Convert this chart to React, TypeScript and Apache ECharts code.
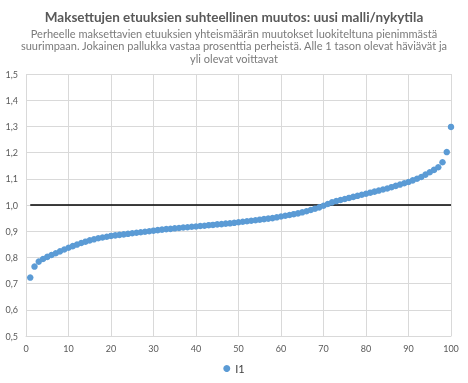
import React, { useEffect, useRef } from "react";
import * as echarts from "echarts";

const titleText = "Maksettujen etuuksien suhteellinen muutos: uusi malli/nykytila";
const subtitleLines = [
  "Perheelle maksettavien etuuksien yhteismäärän muutokset luokiteltuna pienimmästä",
  "suurimpaan. Jokainen pallukka vastaa prosenttia perheistä. Alle 1 tason olevat häviävät ja",
  "yli olevat voittavat",
];
const seriesName = "I1";
const percentiles = Array.from({ length: 100 }, (_, i) => i + 1);
const ratios = [
  0.723, 0.765, 0.784, 0.794, 0.802, 0.809, 0.816, 0.823, 0.83, 0.837,
  0.843, 0.849, 0.855, 0.86, 0.865, 0.869, 0.873, 0.876, 0.879, 0.882,
  0.884, 0.886, 0.888, 0.89, 0.892, 0.894, 0.896, 0.898, 0.9, 0.902,
  0.904, 0.906, 0.908, 0.909, 0.911, 0.912, 0.914, 0.915, 0.917, 0.918,
  0.92, 0.921, 0.923, 0.924, 0.926, 0.927, 0.929, 0.93, 0.932, 0.934,
  0.936, 0.938, 0.94, 0.942, 0.944, 0.946, 0.948, 0.95, 0.953, 0.956,
  0.959, 0.962, 0.965, 0.968, 0.972, 0.976, 0.981, 0.986, 0.991, 0.997,
  1.004, 1.01, 1.015, 1.019, 1.023, 1.027, 1.031, 1.035, 1.039, 1.043,
  1.047, 1.051, 1.055, 1.059, 1.063, 1.068, 1.073, 1.078, 1.083, 1.088,
  1.094, 1.1, 1.107, 1.116, 1.125, 1.134, 1.144, 1.163, 1.202, 1.298,
];
const refLineX = [1, 100];
const refLineY = [1, 1];

export default function App() {
  const ref = useRef<HTMLDivElement>(null);
  useEffect(() => {
    if (!ref.current) return;
    const chart = echarts.init(ref.current, null, { renderer: "svg" });
    const font = "Lato, 'Open Sans', sans-serif";
    chart.setOption({
      animation: false,
      textStyle: { fontFamily: font },
      graphic: [
        {
          type: "text",
          x: 234,
          y: 17,
          style: {
            text: titleText,
            textAlign: "center",
            textVerticalAlign: "middle",
            font: `bold 13.5px ${font}`,
            fill: "#595959",
          },
        },
        ...subtitleLines.map((line, i) => ({
          type: "text",
          x: 234,
          y: 33 + i * 12.5,
          style: {
            text: line,
            textAlign: "center",
            textVerticalAlign: "middle",
            font: `11px ${font}`,
            fill: "#7a7a7a",
          },
        })),
      ],
      legend: {
        data: [seriesName],
        top: 358,
        left: "center",
        icon: "circle",
        itemWidth: 7,
        itemHeight: 7,
        itemGap: 3,
        textStyle: { fontSize: 11, color: "#404040" },
      },
      grid: { left: 26, right: 17, top: 74, bottom: 47, containLabel: false },
      xAxis: {
        type: "value",
        min: 0,
        max: 100,
        interval: 10,
        axisLine: { show: true, lineStyle: { color: "#d9d9d9" } },
        axisTick: { show: false },
        axisLabel: { fontSize: 9, color: "#595959", margin: 8 },
        splitLine: { show: true, lineStyle: { color: "#d9d9d9" } },
      },
      yAxis: {
        type: "value",
        min: 0.5,
        max: 1.5,
        interval: 0.1,
        axisLine: { show: false },
        axisTick: { show: false },
        axisLabel: {
          fontSize: 9,
          color: "#595959",
          margin: 8,
          formatter: (v: number) => v.toFixed(1).replace(".", ","),
        },
        splitLine: { show: true, lineStyle: { color: "#d9d9d9" } },
      },
      series: [
        {
          name: "ref",
          type: "line",
          data: refLineX.map((x, i) => [x, refLineY[i]]),
          symbol: "none",
          lineStyle: { color: "#000000", width: 1.5 },
          silent: true,
          z: 1,
        },
        {
          name: seriesName,
          type: "scatter",
          data: percentiles.map((x, i) => [x, ratios[i]]),
          symbolSize: 6.5,
          itemStyle: { color: "#5b9bd5", opacity: 1 },
          z: 2,
        },
      ],
    });
    return () => chart.dispose();
  }, []);
  return (
    <div
      ref={ref}
      style={{ position: "fixed", left: 0, top: 0, width: 468, height: 383 }}
    />
  );
}
